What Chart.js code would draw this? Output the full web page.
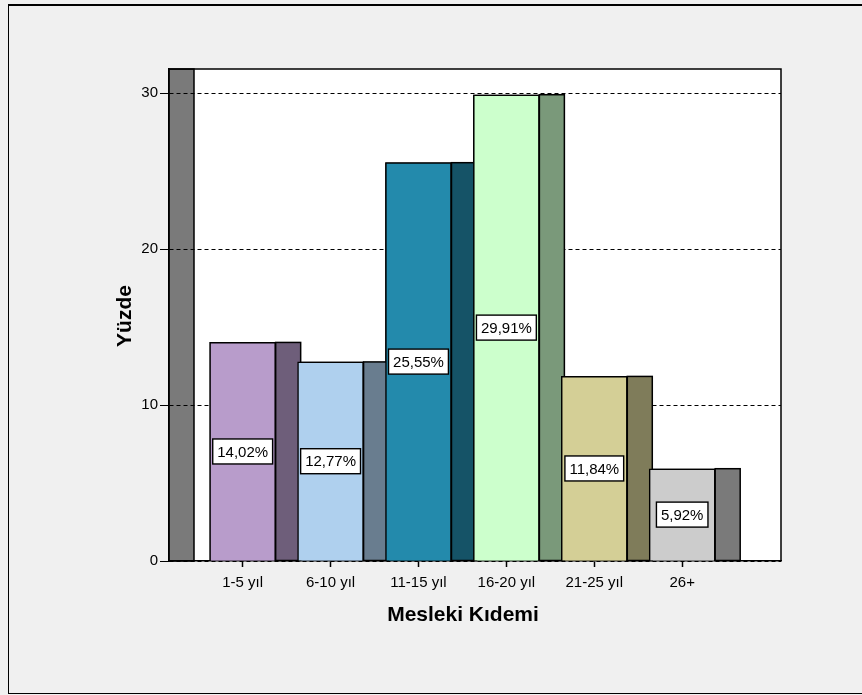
<!DOCTYPE html>
<html lang="tr">
<head>
  <meta charset="UTF-8">
  <title>Mesleki Kıdemi</title>
  <script src="https://cdn.jsdelivr.net/npm/chart.js"></script>
  <style>
    body {
      margin: 0;
      background: #f0f0f0;
      width: 862px;
      height: 695px;
      overflow: hidden;
      position: relative;
    }

    .frame {
      position: absolute;
      left: 8px;
      top: 4px;
      width: 880px;
      height: 687px;
      border: 1px solid #000;
      border-top-width: 2px;
    }

    #chart {
      position: absolute;
      left: 0;
      top: 0;
    }
  </style>
</head>
<body>

  <div class="frame"></div>
  <canvas id="chart" width="862" height="695"></canvas>

  <script>
    const categories = ['1-5 yıl', '6-10 yıl', '11-15 yıl', '16-20 yıl', '21-25 yıl', '26+'];
    const percentages = [14.02, 12.77, 25.55, 29.91, 11.84, 5.92];
    const yTicks = [0, 10, 20, 30];
    const barColors = ['#b89ccb', '#afd0ee', '#238aac', '#ccffcc', '#d4cf96', '#cccccc'];

    const FONT = '"Liberation Sans", Arial, sans-serif';
    const DEPTH = 25; // 3D side depth in px

    // side faces are the front colour at 60 %
    function shade(hex) {
      const n = parseInt(hex.slice(1), 16);
      const r = Math.round((n >> 16 & 255) * 0.6);
      const g = Math.round((n >> 8 & 255) * 0.6);
      const b = Math.round((n & 255) * 0.6);
      return `rgb(${r},${g},${b})`;
    }

    const plot3d = {
      id: 'plot3d',
      beforeDraw(chart) {
        const { ctx, chartArea: a } = chart;
        ctx.save();
        ctx.fillStyle = '#fff';
        ctx.fillRect(a.left, a.top, a.right - a.left, a.bottom - a.top);
        // left wall
        ctx.fillStyle = '#7a7a7a';
        ctx.fillRect(a.left, a.top, DEPTH, a.bottom - a.top);
        ctx.strokeStyle = '#000';
        ctx.lineWidth = 1.5;
        ctx.strokeRect(a.left, a.top, DEPTH, a.bottom - a.top);
        ctx.restore();
      },
      afterDatasetsDraw(chart) {
        const { ctx, chartArea: a } = chart;
        const bars = chart.getDatasetMeta(0).data;
        ctx.save();
        ctx.strokeStyle = '#000';
        ctx.lineWidth = 1.5;
        ctx.beginPath();
        ctx.moveTo(a.left, a.top);
        ctx.lineTo(a.right, a.top);
        ctx.lineTo(a.right, a.bottom);
        ctx.stroke();

        // front then side, bar by bar, so the next front covers the previous side
        bars.forEach((bar, i) => {
          bar.draw(ctx, a);
          const x = bar.x + bar.width / 2;
          ctx.fillStyle = shade(barColors[i]);
          ctx.fillRect(x, bar.y, DEPTH, bar.base - bar.y);
          ctx.strokeRect(x, bar.y, DEPTH, bar.base - bar.y);
        });

        // value labels
        ctx.font = '15px ' + FONT;
        ctx.textAlign = 'center';
        ctx.textBaseline = 'middle';
        bars.forEach((bar, i) => {
          const text = percentages[i].toFixed(2).replace('.', ',') + '%';
          const w = ctx.measureText(text).width + 9;
          const h = 25;
          const cy = (bar.y + bar.base) / 2;
          ctx.fillStyle = '#fff';
          ctx.fillRect(bar.x - w / 2, cy - h / 2, w, h);
          ctx.lineWidth = 1.4;
          ctx.strokeRect(bar.x - w / 2, cy - h / 2, w, h);
          ctx.fillStyle = '#000';
          ctx.fillText(text, bar.x, cy + 1);
        });
        ctx.restore();
      },
      afterDraw(chart) {
        const ctx = chart.ctx;
        ctx.save();
        ctx.fillStyle = '#000';
        ctx.font = 'bold 21px ' + FONT;
        ctx.textAlign = 'center';
        ctx.textBaseline = 'middle';
        ctx.fillText('Mesleki Kıdemi', 463, 615);
        ctx.translate(125, 316);
        ctx.rotate(-Math.PI / 2);
        ctx.fillText('Yüzde', 0, 0);
        ctx.restore();
      }
    };

    const chart = new Chart(document.getElementById('chart'), {
      type: 'bar',
      data: {
        datasets: [{
          data: percentages.map((v, i) => ({ x: i, y: v })),
          backgroundColor: barColors,
          borderColor: '#000',
          borderWidth: 1.5,
          barThickness: 66
        }]
      },
      options: {
        responsive: false,
        animation: false,
        layout: { padding: { top: 69, right: 81, left: 0, bottom: 0 } },
        plugins: {
          legend: { display: false },
          tooltip: { enabled: false }
        },
        scales: {
          x: {
            type: 'linear',
            min: -0.838,
            max: 6.124,
            offset: false,
            afterFit: s => { s.height = 134; },
            afterBuildTicks: s => { s.ticks = categories.map((c, i) => ({ value: i })); },
            ticks: {
              callback: v => categories[v],
              color: '#000',
              font: { size: 15, family: FONT },
              padding: 7,
              maxRotation: 0,
              autoSkip: false
            },
            grid: { offset: false, drawOnChartArea: false, color: '#000', tickLength: 6, tickWidth: 1.5 },
            border: { color: '#000', width: 1.5 }
          },
          y: {
            min: 0,
            max: 31.56,
            afterFit: s => { s.width = 169; },
            afterBuildTicks: s => { s.ticks = yTicks.map(v => ({ value: v })); },
            ticks: {
              color: '#000',
              font: { size: 15, family: FONT },
              padding: 2
            },
            grid: { color: '#000', lineWidth: 1, tickLength: 9, tickBorderDash: [] },
            border: { color: '#000', width: 1.5, dash: [4, 3] }
          }
        }
      },
      plugins: [plot3d]
    });
  </script>
</body>
</html>
